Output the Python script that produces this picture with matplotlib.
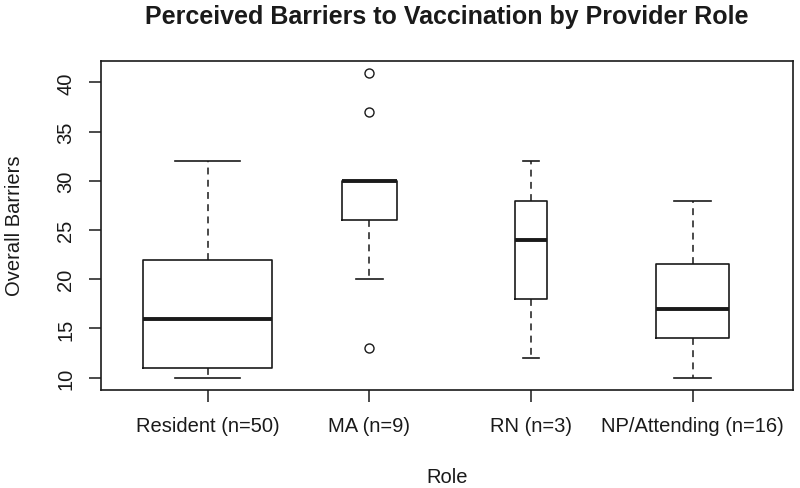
import numpy as np
import matplotlib
matplotlib.use("Agg")
import matplotlib.pyplot as plt

plt.rcParams['font.family'] = ['Liberation Sans', 'DejaVu Sans']

# data (R style boxplot, varwidth)
roles = ["Resident", "MA", "RN", "NP/Attending"]
n_obs = [50, 9, 3, 16]
whis_lo = [10, 20, 12, 10]
q1 = [11, 26, 18, 14]
medians = [16, 30, 24, 17]
q3 = [22, 30, 28, 21.5]
whis_hi = [32, 30, 32, 28]
outliers = [[], [13, 37, 41], [], []]

ink = "#1a1a1a"

stats = []
for i in range(len(roles)):
    stats.append(dict(label="%s (n=%d)" % (roles[i], n_obs[i]),
                      whislo=whis_lo[i], q1=q1[i], med=medians[i],
                      q3=q3[i], whishi=whis_hi[i], fliers=outliers[i]))

# box width ~ sqrt(n), like varwidth=TRUE
widths = 0.8 * np.sqrt(n_obs) / np.sqrt(max(n_obs))
pos = np.arange(1, len(roles) + 1)

fig = plt.figure(figsize=(8, 4.89), dpi=100)
ax = fig.add_axes([0.1259, 0.2004, 0.9909 - 0.1259, 0.8738 - 0.2004])

ax.bxp(stats, positions=pos, widths=widths, capwidths=widths / 2,
       boxprops=dict(color=ink, linewidth=1.2),
       medianprops=dict(color=ink, linewidth=2.8, solid_capstyle='butt'),
       whiskerprops=dict(color=ink, linewidth=1.1, linestyle=(0, (4.5, 3.5))),
       capprops=dict(color=ink, linewidth=1.2),
       flierprops=dict(marker='o', markerfacecolor='none', markeredgecolor=ink,
                       markersize=6.5, markeredgewidth=1.0))

ax.set_xlim(0.3375, 4.62)
ax.set_ylim(8.75, 42.2)
ax.set_yticks([10, 15, 20, 25, 30, 35, 40])
for sp in ax.spines.values():
    sp.set_color(ink)
    sp.set_linewidth(1.2)
ax.tick_params(colors=ink, length=8.4, width=1.1, labelsize=14.5, pad=10)
for lab in ax.get_yticklabels():
    lab.set_rotation(90)
    lab.set_va('center')

fig.text(0.5584, 1 - 17 / 489, "Perceived Barriers to Vaccination by Provider Role",
         ha='center', va='center', fontsize=18, fontweight='bold', color=ink)
fig.text(0.5584, 1 - 478 / 489, "Role", ha='center', va='center',
         fontsize=14.5, color=ink)
fig.text(14.5 / 800, 1 - 226 / 489, "Overall Barriers", ha='center', va='center',
         rotation=90, fontsize=14.5, color=ink)

fig.savefig("out.png", dpi=100)
